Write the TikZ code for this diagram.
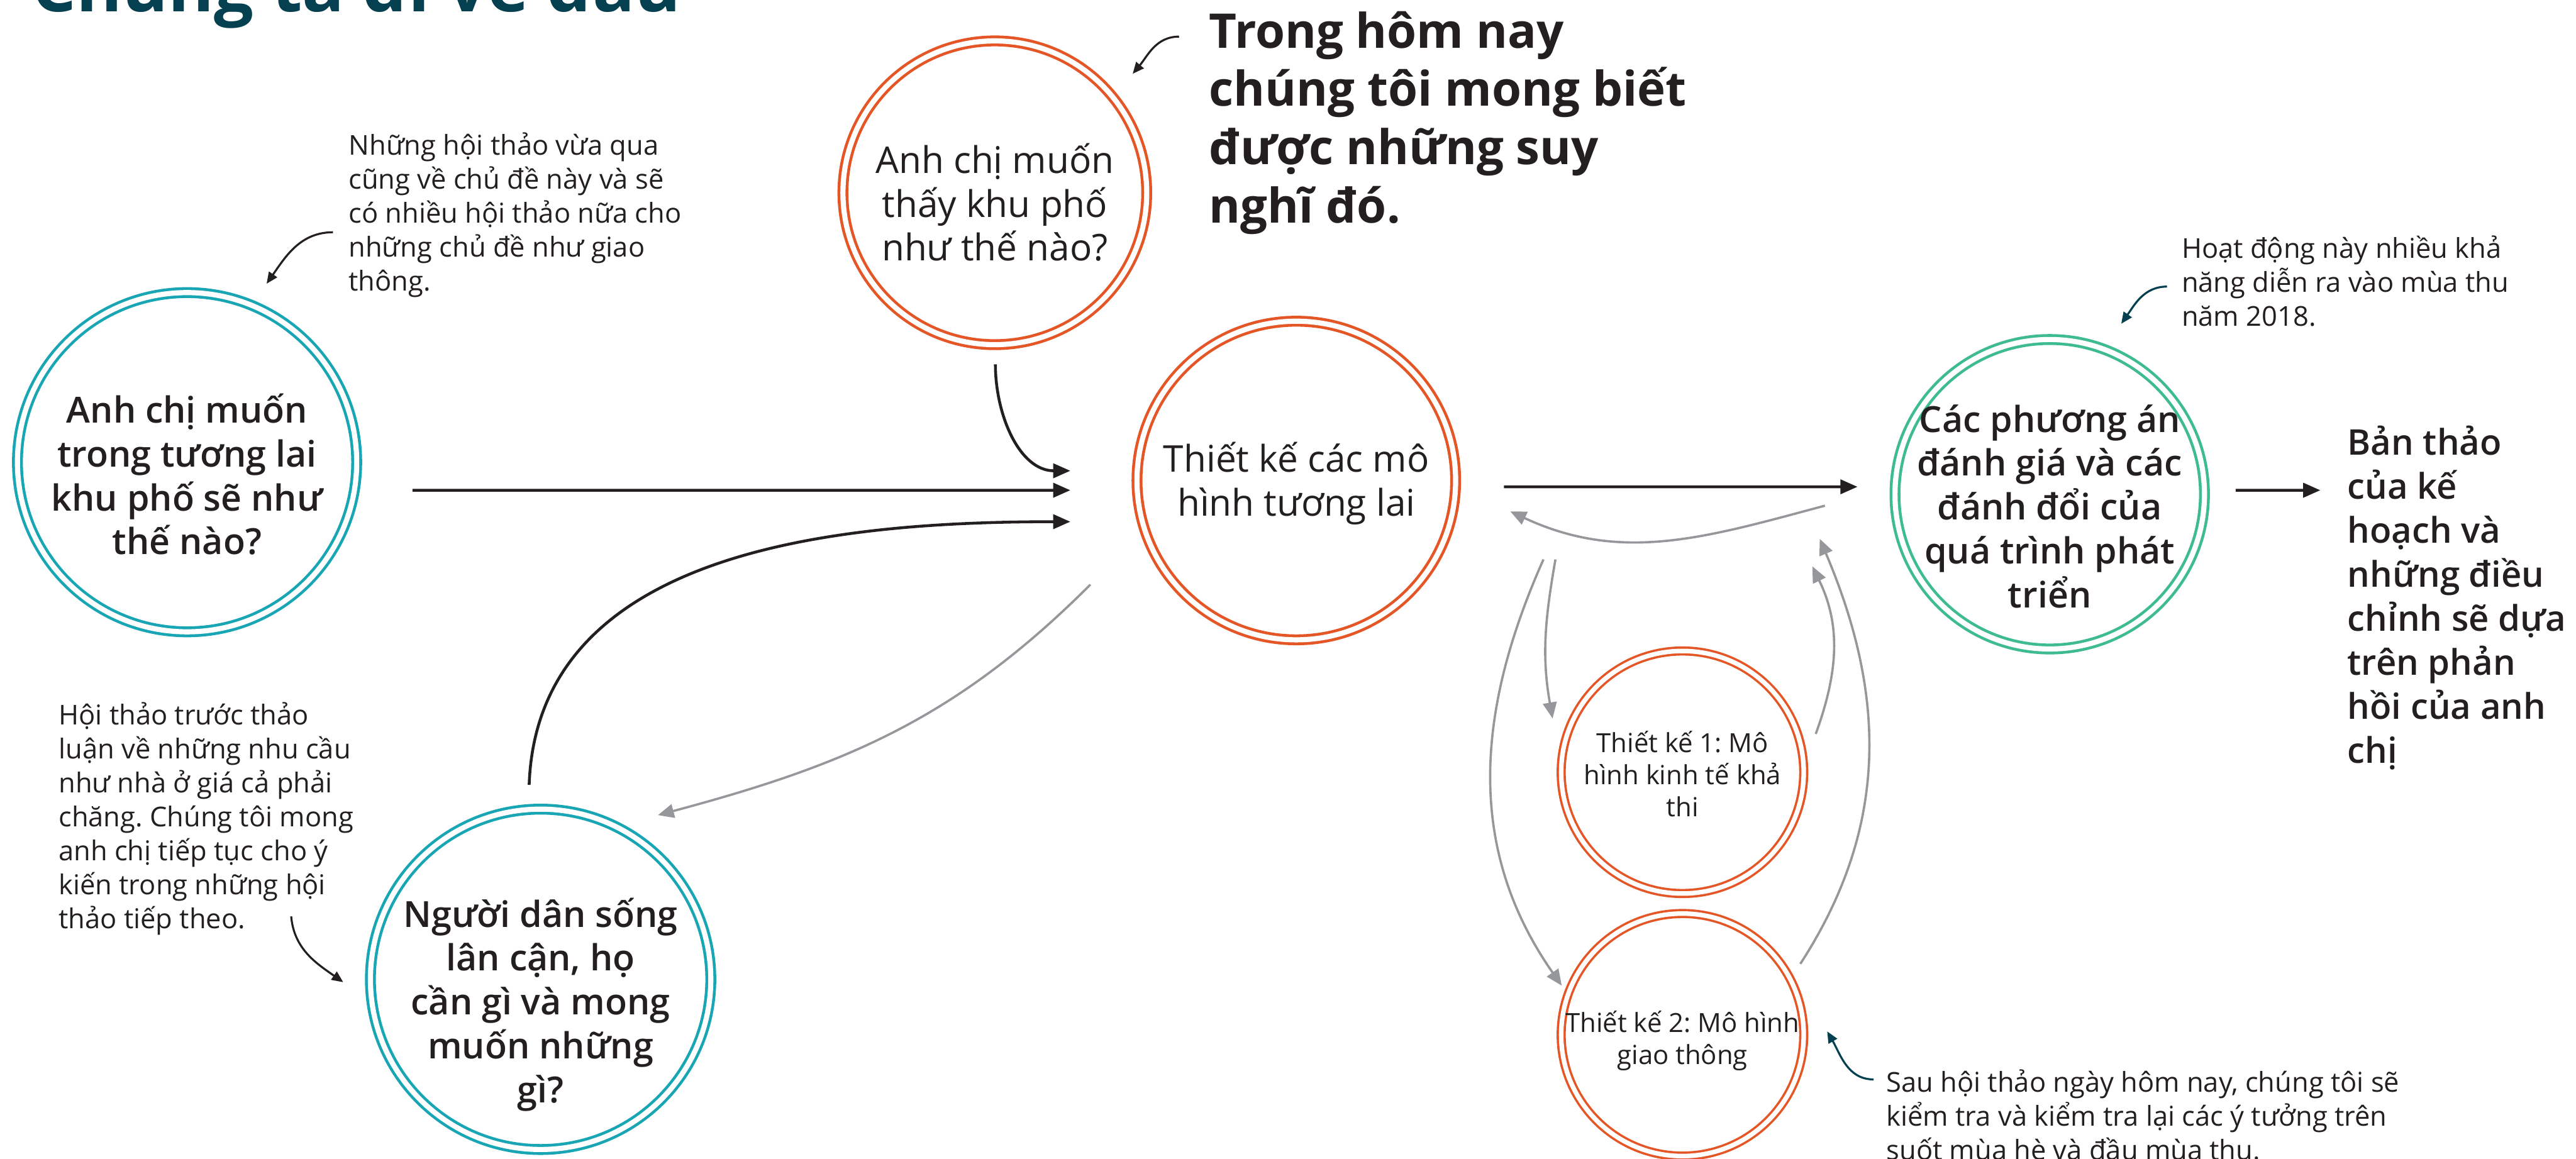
\documentclass[tikz,border=0pt]{standalone}
\usepackage{fontspec}
\setmainfont{Open Sans}
\newfontfamily\semib{Open Sans Semibold}
\usetikzlibrary{arrows.meta}
\definecolor{ink}{RGB}{35,31,32}
\definecolor{tealring}{RGB}{24,165,180}
\definecolor{orangering}{RGB}{229,86,38}
\definecolor{greenring}{RGB}{63,187,145}
\definecolor{linkgray}{RGB}{150,151,155}
\definecolor{navy}{RGB}{5,64,80}
\frenchspacing

\begin{document}
\begin{tikzpicture}[
    ring/.style={circle, draw=#1, line width=0.05cm, double=white, double distance=0.09cm,
                 inner sep=0pt, outer sep=0pt},
    smallring/.style={circle, draw=orangering, line width=0.04cm, double=white, double distance=0.08cm,
                      inner sep=0pt, outer sep=0pt},
    circsb/.style={font=\semib\fontsize{17.9}{21.8}\selectfont, align=center, text=ink, inner sep=0pt},
    circrg/.style={font=\fontsize{18.3}{21.7}\selectfont, align=center, text=ink, inner sep=0pt},
    smallrg/.style={font=\fontsize{13.1}{15.9}\selectfont, align=center, text=ink, inner sep=0pt},
    note/.style={font=\fontsize{13.6}{16.9}\selectfont, align=left, anchor=north west, text=ink, inner sep=0pt},
    headline/.style={font=\bfseries\fontsize{23.8}{29}\selectfont, align=left, anchor=north west, text=ink, inner sep=0pt},
    plantext/.style={font=\semib\fontsize{17.6}{21.9}\selectfont, align=left, anchor=north west, text=ink, inner sep=0pt},
    flow/.style={-{Triangle[length=0.3cm, width=0.25cm]}, line width=0.05cm, draw=ink},
    back/.style={-{Triangle[length=0.28cm, width=0.24cm]}, line width=0.04cm, draw=linkgray},
    hint/.style={-{Triangle[length=0.2cm, width=0.17cm]}, line width=0.035cm, draw=#1}]

    \useasboundingbox (0,0) rectangle (45.03,-20.26);

    \node (title) [anchor=base west, inner sep=0pt, font=\bfseries\fontsize{34.8}{40}\selectfont, text=navy]
        at (0.55,-0.20) {Chúng ta đi về đâu};

    % vong tron
    \node (vision)  [ring=tealring,   minimum size=5.93cm] at (3.27,-8.08)  {};
    \node (people)  [ring=tealring,   minimum size=5.95cm] at (9.45,-17.12) {};
    \node (ask)     [ring=orangering, minimum size=5.31cm] at (17.39,-3.37) {};
    \node (future)  [ring=orangering, minimum size=5.57cm] at (22.66,-8.40) {};
    \node (eval)    [ring=greenring,  minimum size=5.41cm] at (35.83,-8.64) {};
    \node (econ)    [smallring,       minimum size=4.24cm] at (29.41,-13.50) {};
    \node (traffic) [smallring,       minimum size=4.24cm] at (29.41,-18.09) {};

    \node (vision-t)  [circsb]  at ([yshift=-0.215cm]vision.center) {Anh chị muốn\\ trong tương lai\\ khu phố sẽ như\\ thế nào?};
    \node (people-t)  [circsb]  at ([yshift=-0.44cm]people.center)  {Người dân sống\\ lân cận, họ\\ cần gì và mong\\ muốn những\\ gì?};
    \node (ask-t)     [circrg]  at ([yshift=-0.17cm]ask.center)     {Anh chị muốn\\ thấy khu phố\\ như thế nào?};
    \node (future-t)  [circrg]  at ([yshift=-0.05cm]future.center)  {Thiết kế các mô\\ hình tương lai};
    \node (eval-t)    [circsb]  at ([yshift=-0.21cm]eval.center)    {Các phương án\\ đánh giá và các\\ đánh đổi của\\ quá trình phát\\ triển};
    \node (econ-t)    [smallrg] at ([yshift=-0.03cm]econ.center)    {Thiết kế 1: Mô\\ hình kinh tế khả\\ thi};
    \node (traffic-t) [smallrg] at ([yshift=-0.10cm]traffic.center) {Thiết kế 2: Mô hình\\ giao thông};

    % ghi chu
    \node (note-past) [note] at (6.09,-2.31)   {Những hội thảo vừa qua\\ cũng về chủ đề này và sẽ\\ có nhiều hội thảo nữa cho\\ những chủ đề như giao\\ thông.};
    \node (note-prev) [note] at (1.02,-12.27)  {Hội thảo trước thảo\\ luận về những nhu cầu\\ như nhà ở giá cả phải\\ chăng. Chúng tôi mong\\ anh chị tiếp tục cho ý\\ kiến trong những hội\\ thảo tiếp theo.};
    \node (today)     [headline] at (21.13,-0.19) {Trong hôm nay\\ chúng tôi mong biết\\ được những suy\\ nghĩ đó.};
    \node (note-fall) [note] at (38.13,-4.11)  {Hoạt động này nhiều khả\\ năng diễn ra vào mùa thu\\ năm 2018.};
    \node (note-test) [note] at (32.97,-18.69) {Sau hội thảo ngày hôm nay, chúng tôi sẽ\\ kiểm tra và kiểm tra lại các ý tưởng trên\\ suốt mùa hè và đầu mùa thu.};
    \node (plan)      [plantext] at (41.03,-7.44) {Bản thảo\\ của kế\\ hoạch và\\ những điều\\ chỉnh sẽ dựa\\ trên phản\\ hồi của anh\\ chị};

    % luong chinh
    \draw [flow] ([shift={(0.01,-3.00)}]ask.center) to[out=-90, in=180] ([shift={(-3.95,0.17)}]future.center);
    \draw [flow] ([shift={(3.94,-0.49)}]vision.center) -- ([shift={(-3.95,-0.17)}]future.center);
    \draw [flow] ([shift={(-0.20,3.40)}]people.center) to[out=88, in=180] ([shift={(-3.95,-0.72)}]future.center);
    \draw [flow] ([shift={(3.63,-0.11)}]future.center) -- ([shift={(-3.36,0.13)}]eval.center);
    \draw [flow] ([shift={(3.25,0.07)}]eval.center) -- ([shift={(-0.47,-1.13)}]plan.north west);

    % phan hoi
    \draw [back] ([shift={(-3.60,-1.82)}]future.center) to[out=225, in=15] ([shift={(2.05,2.87)}]people.center);
    \draw [back] ([shift={(-3.93,-0.20)}]eval.center) to[out=195, in=-25] ([shift={(3.74,-0.54)}]future.center);
    \draw [back] ([shift={(4.53,-1.38)}]future.center) to[out=-100, in=100] ([shift={(-2.27,0.94)}]econ.center);
    \draw [back] ([shift={(4.32,-1.38)}]future.center) to[out=-114, in=125] ([shift={(-2.11,0.86)}]traffic.center);
    \draw [back] ([shift={(2.33,0.67)}]econ.center) to[out=70, in=-64] ([shift={(-4.15,-1.26)}]eval.center);
    \draw [back] ([shift={(2.06,1.24)}]traffic.center) to[out=57, in=-67] ([shift={(-4.02,-0.78)}]eval.center);

    % mui ten ghi chu
    \draw [hint=ink]  ([shift={(-0.27,-1.75)}]note-past.north west) to[out=180, in=55] ([shift={(1.39,3.12)}]vision.center);
    \draw [hint=ink]  ([shift={(4.07,-3.75)}]note-prev.north west) to[out=-85, in=145] ([shift={(-3.45,-0.05)}]people.center);
    \draw [hint=ink]  ([shift={(-0.52,-0.45)}]today.north west) to[out=180, in=50] ([shift={(2.41,2.08)}]ask.center);
    \draw [hint=navy] ([shift={(-0.25,-0.90)}]note-fall.north west) to[out=180, in=55] ([shift={(1.25,2.98)}]eval.center);
    \draw [hint=navy] ([shift={(-0.22,-0.18)}]note-test.north west) to[out=180, in=-60] ([shift={(2.53,0.06)}]traffic.center);
\end{tikzpicture}
\end{document}
